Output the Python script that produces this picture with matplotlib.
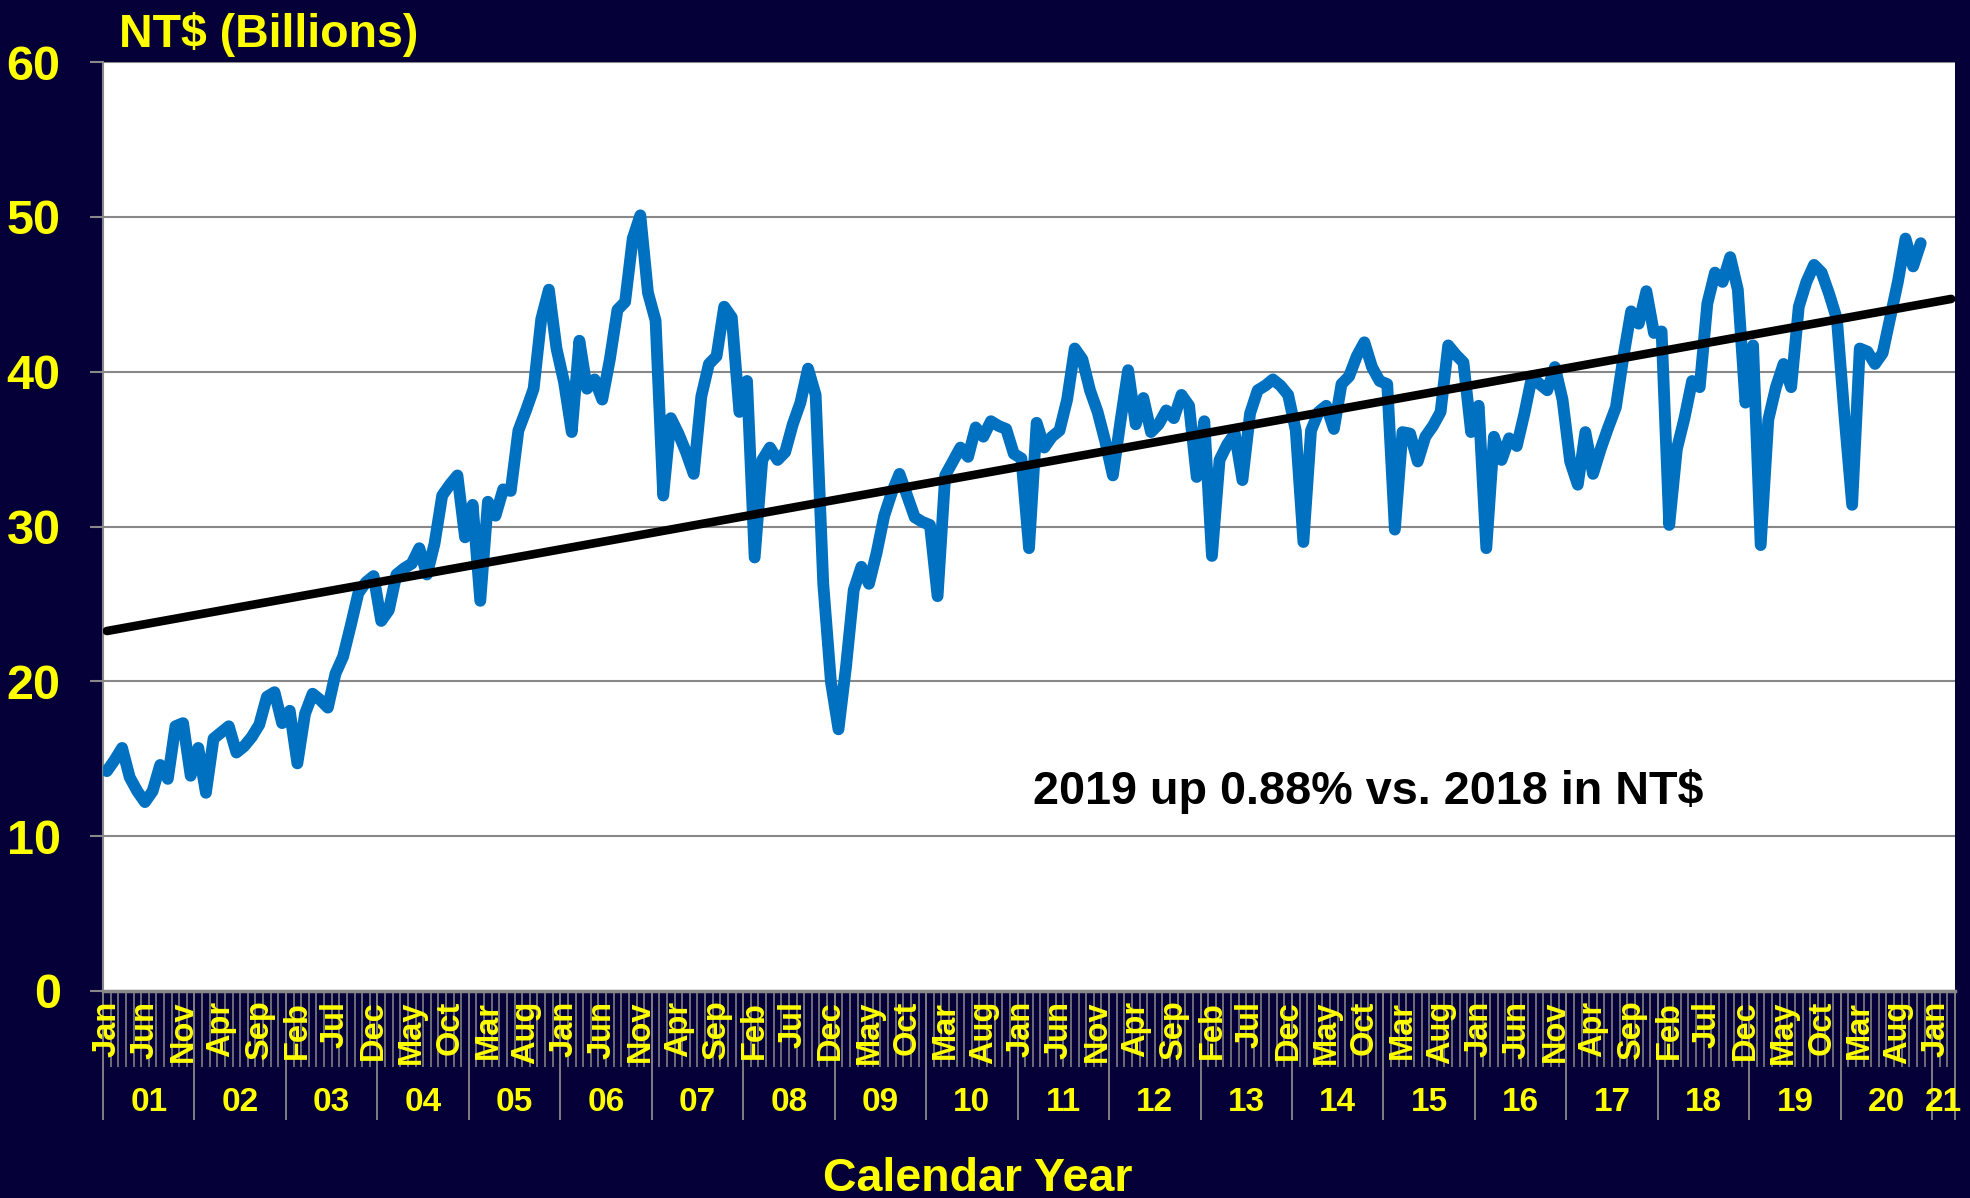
import numpy as np
import matplotlib
matplotlib.use('Agg')
import matplotlib.pyplot as plt
import matplotlib.transforms as mtransforms
from matplotlib import font_manager

NAVY = '#050038'
YELLOW = '#FFFF00'
BLUE = '#0070C0'
GRAY = '#888888'

names = {f.name for f in font_manager.fontManager.ttflist}
NARROW = 'Liberation Sans Narrow' if 'Liberation Sans Narrow' in names else 'Liberation Sans'
ARIAL = 'Liberation Sans'

# monthly sales, NT$ billions
rev_2001 = [14.2, 14.9, 15.7, 13.8, 12.9, 12.2, 12.9, 14.6, 13.7, 17.1, 17.3, 13.9]
rev_2002 = [15.7, 12.8, 16.3, 16.7, 17.1, 15.4, 15.8, 16.4, 17.2, 19.0, 19.3, 17.3]
rev_2003 = [18.1, 14.7, 17.9, 19.2, 18.8, 18.3, 20.5, 21.6, 23.6, 25.7, 26.4, 26.8]
rev_2004 = [23.9, 24.6, 26.9, 27.3, 27.6, 28.6, 26.9, 28.9, 32.0, 32.7, 33.3, 29.3]
rev_2005 = [31.4, 25.2, 31.6, 30.7, 32.4, 32.3, 36.2, 37.5, 38.9, 43.4, 45.3, 41.5]
rev_2006 = [39.3, 36.1, 42.0, 38.9, 39.5, 38.2, 40.8, 44.0, 44.5, 48.6, 50.1, 45.1]
rev_2007 = [43.3, 32.0, 37.0, 36.0, 34.8, 33.4, 38.4, 40.5, 41.0, 44.2, 43.5, 37.4]
rev_2008 = [39.4, 28.0, 34.3, 35.1, 34.3, 34.8, 36.6, 38.0, 40.2, 38.5, 26.3, 20.0]
rev_2009 = [16.9, 21.0, 25.9, 27.4, 26.3, 28.3, 30.7, 32.2, 33.4, 32.0, 30.6, 30.3]
rev_2010 = [30.1, 25.5, 33.3, 34.2, 35.1, 34.5, 36.4, 35.8, 36.8, 36.5, 36.3, 34.7]
rev_2011 = [34.4, 28.6, 36.7, 35.1, 35.8, 36.2, 38.2, 41.5, 40.8, 38.8, 37.4, 35.5]
rev_2012 = [33.3, 36.8, 40.1, 36.6, 38.3, 36.1, 36.6, 37.5, 37.0, 38.5, 37.8, 33.2]
rev_2013 = [36.8, 28.1, 34.3, 35.3, 36.0, 33.0, 37.3, 38.8, 39.1, 39.5, 39.1, 38.5]
rev_2014 = [36.2, 29.0, 36.2, 37.4, 37.8, 36.3, 39.2, 39.7, 41.0, 41.9, 40.3, 39.4]
rev_2015 = [39.2, 29.8, 36.1, 36.0, 34.2, 35.8, 36.5, 37.4, 41.7, 41.1, 40.6, 36.1]
rev_2016 = [37.8, 28.6, 35.8, 34.3, 35.7, 35.2, 37.3, 39.7, 39.2, 38.8, 40.3, 38.2]
rev_2017 = [34.2, 32.7, 36.1, 33.4, 35.0, 36.4, 37.7, 41.0, 43.9, 43.1, 45.2, 42.5]
rev_2018 = [42.6, 30.1, 35.0, 37.0, 39.4, 39.0, 44.4, 46.4, 45.8, 47.4, 45.3, 38.0]
rev_2019 = [41.7, 28.8, 36.9, 39.0, 40.5, 39.0, 44.2, 45.8, 46.9, 46.4, 45.0, 43.4]
rev_2020 = [37.1, 31.4, 41.5, 41.3, 40.5, 41.2, 43.5, 45.8, 48.6, 46.8, 48.3]

revenue = (rev_2001 + rev_2002 + rev_2003 + rev_2004 + rev_2005 + rev_2006 + rev_2007
           + rev_2008 + rev_2009 + rev_2010 + rev_2011 + rev_2012 + rev_2013 + rev_2014
           + rev_2015 + rev_2016 + rev_2017 + rev_2018 + rev_2019 + rev_2020)

month_names = ['Jan', 'Feb', 'Mar', 'Apr', 'May', 'Jun',
               'Jul', 'Aug', 'Sep', 'Oct', 'Nov', 'Dec']
year_labels = ['01', '02', '03', '04', '05', '06', '07', '08', '09', '10',
               '11', '12', '13', '14', '15', '16', '17', '18', '19', '20', '21']
n_slots = 243          # month slots Jan 2001 .. Mar 2021
trend_x = [0.5, 242.5]
trend_y = [23.25, 44.7]

x = np.arange(len(revenue)) + 0.5

fig = plt.figure(figsize=(19.7, 11.98), dpi=100, facecolor=NAVY)
ax = fig.add_axes([0.0523, 0.1728, 0.9401, 0.7754])
ax.set_facecolor('white')

ax.plot(x, revenue, color=BLUE, lw=8.5, solid_joinstyle='round',
        solid_capstyle='round', zorder=3)
ax.plot(trend_x, trend_y, color='black', lw=6.2, solid_capstyle='round', zorder=4)

ax.set_xlim(0, n_slots)
ax.set_ylim(0, 60)

# y axis
ax.set_yticks(range(0, 61, 10))
ax.yaxis.grid(True, color=GRAY, lw=1.5, zorder=1)
ax.set_axisbelow(True)
ax.tick_params(axis='y', colors=GRAY, length=9.5, width=1.5, pad=21,
               labelcolor=YELLOW, labelsize=35)
for lbl in ax.get_yticklabels():
    lbl.set_fontfamily(NARROW)
    lbl.set_fontweight('bold')

for side in ['top', 'right']:
    ax.spines[side].set_visible(False)
ax.spines['left'].set_color(GRAY)
ax.spines['left'].set_linewidth(1.5)
ax.spines['bottom'].set_color(GRAY)
ax.spines['bottom'].set_linewidth(2.5)

# x axis: month ticks + year separators, labels drawn by hand
year_edges = list(range(0, n_slots, 12)) + [n_slots]
ax.set_xticks(year_edges)
ax.set_xticks(np.arange(0, n_slots + 1), minor=True)
ax.tick_params(axis='x', which='major', length=93, width=1.3, color=GRAY,
               labelbottom=False)
ax.tick_params(axis='x', which='minor', length=55, width=1.1, color=GRAY)

blend = mtransforms.blended_transform_factory(ax.transData, ax.transAxes)
month_tr = mtransforms.offset_copy(blend, fig=fig, y=-7, units='points')
for i in range(0, n_slots, 5):
    ax.text(i + 0.5, 0, month_names[i % 12], transform=month_tr, rotation=90,
            ha='center', va='top', color=YELLOW, fontsize=23.5,
            fontweight='bold', family=ARIAL)

year_tr = mtransforms.offset_copy(blend, fig=fig, y=-80, units='points')
for k, lab in enumerate(year_labels):
    xc = (year_edges[k] + year_edges[k + 1]) / 2
    ax.text(xc, 0, lab, transform=year_tr, ha='center', va='center',
            color=YELLOW, fontsize=24, fontweight='bold', family=NARROW)

ax.text(122, 12.1, '2019 up 0.88% vs. 2018 in NT$', color='black',
        fontsize=33.7, fontweight='bold', family=ARIAL, va='baseline', zorder=5)

fig.text(119 / 1970, 1 - 47 / 1198, r'NT\$ (Billions)', color=YELLOW,
         fontsize=33.5, fontweight='bold', family=ARIAL, va='baseline')
fig.text(978 / 1970, 0.006, 'Calendar Year', color=YELLOW, fontsize=33.5,
         fontweight='bold', family=ARIAL, ha='center', va='baseline')

fig.savefig('out.png', dpi=100, facecolor=NAVY)
